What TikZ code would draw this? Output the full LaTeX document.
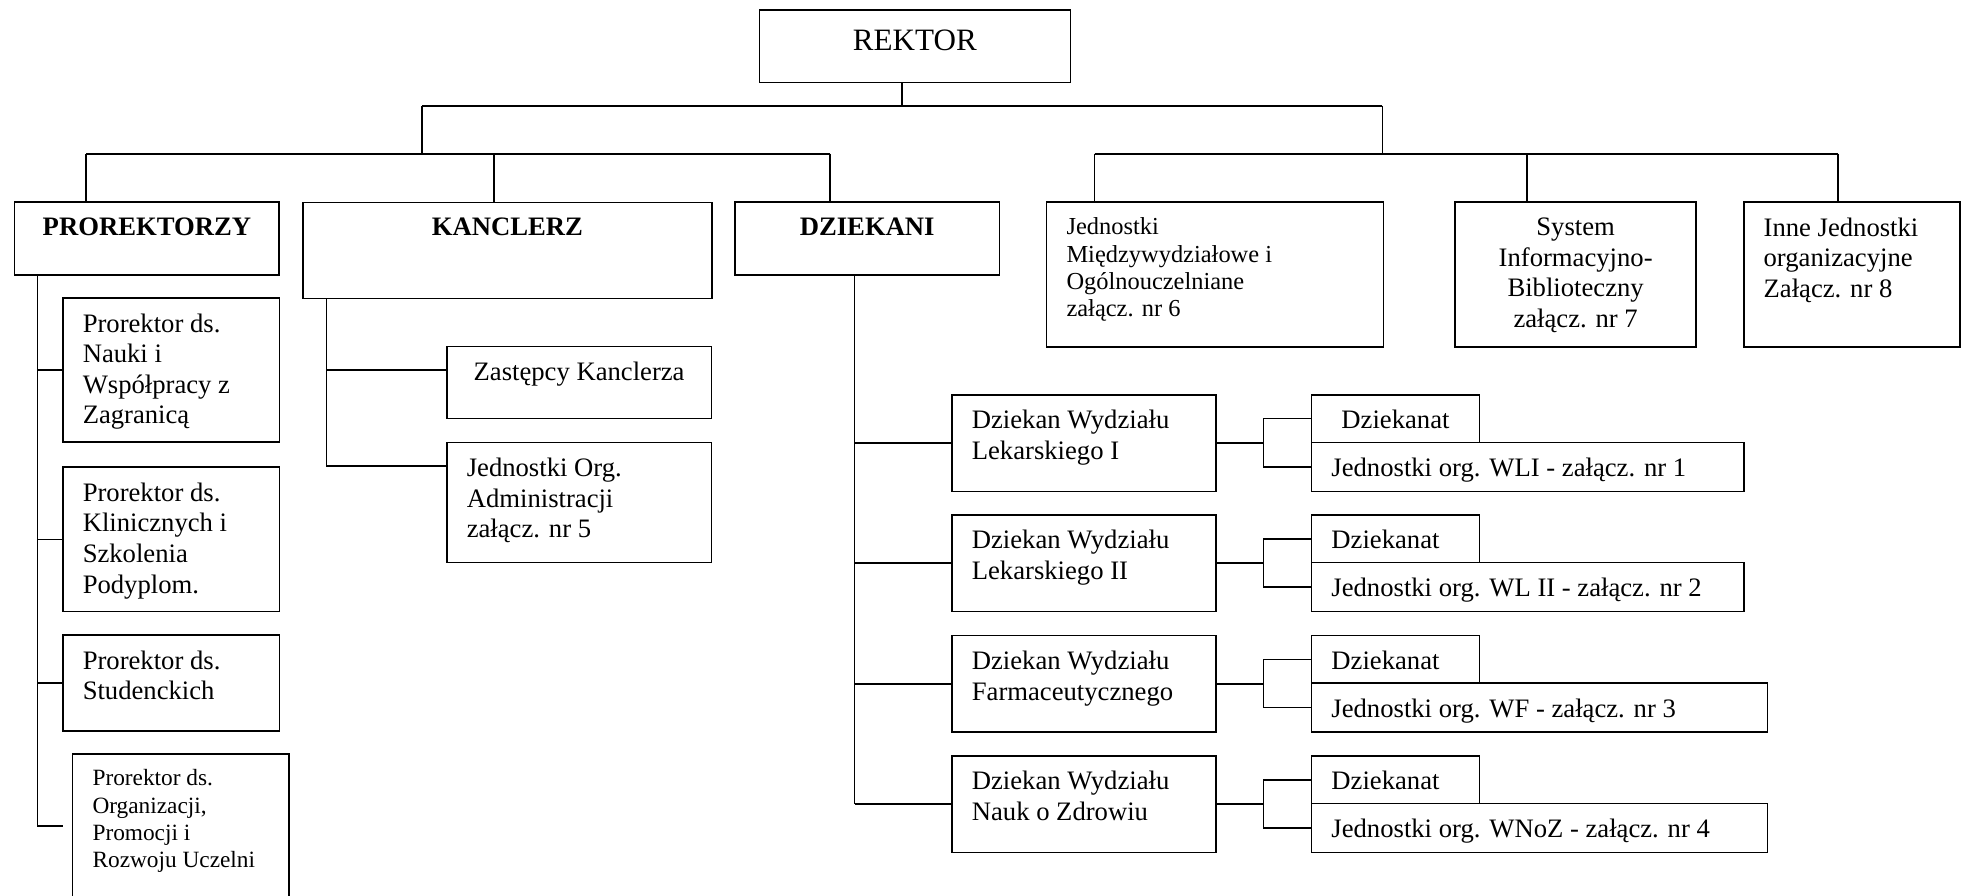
\documentclass[tikz,border=0pt]{standalone}
\usepackage{fontspec}
\setmainfont{Liberation Serif}
\usetikzlibrary{calc}

\newdimen\pxu
\pxu=0.5645pt
% box of #1 x #2 units, text at the top
\newcommand{\orgtext}[3]{\parbox[c][\dimexpr #2\pxu-14pt\relax][t]{\dimexpr #1\pxu-18pt\relax}{\raggedright #3}}

\begin{document}
\begin{tikzpicture}[x=0.5645pt, y=-0.5645pt,
    orgbox/.style={draw, line width=0.75pt, anchor=north west, inner xsep=9pt, inner ysep=7pt,
      font=\fontsize{12}{13.8}\selectfont},
    headbox/.style={orgbox, font=\fontsize{12}{13.8}\selectfont\bfseries},
    smallbox/.style={orgbox, font=\fontsize{11}{12.3}\selectfont},
    link/.style={line width=0.75pt}]
\useasboundingbox (0,0) rectangle (1568,714);

% rektor and the first level
\node[orgbox, font=\fontsize{14}{16}\selectfont] (rektor) at (605,7.5) {\orgtext{248}{57.5}{\centering\vspace*{2pt}REKTOR}};

\node[headbox] (pro) at (11,160.6) {\orgtext{211}{58}{\centering PROREKTORZY}};
\node[headbox] (kanc) at (241,160.7) {\orgtext{326}{76.7}{\centering KANCLERZ}};
\node[headbox] (dziek) at (585.5,160.6) {\orgtext{211}{58}{\centering DZIEKANI}};

\node[smallbox] (jm) at (834,160.6) {\orgtext{268.7}{115.4}{Jednostki\\ Międzywydziałowe i\\ Ogólnouczelniane\\ załącz. nr 6}};
\node[orgbox] (sib) at (1160,160.6) {\orgtext{192}{115.4}{\centering System\\ Informacyjno-\\ Biblioteczny\\ załącz. nr 7}};
\node[orgbox] (inne) at (1390,160.6) {\orgtext{172.6}{115.4}{Inne Jednostki\\ organizacyjne\\ Załącz. nr 8}};

% prorektorzy
\node[orgbox] (pr1) at (49.4,237) {\orgtext{172.8}{115}{Prorektor ds.\\ Nauki i\\ Współpracy z\\ Zagranicą}};
\node[orgbox] (pr2) at (49.4,372) {\orgtext{172.8}{115}{Prorektor ds.\\ Klinicznych i\\ Szkolenia\\ Podyplom.}};
\node[orgbox] (pr3) at (49.4,506) {\orgtext{172.8}{76.5}{Prorektor ds.\\ Studenckich}};
\node[orgbox, font=\fontsize{10.5}{12.3}\selectfont] (pr4) at (57.2,600.8) {\orgtext{172.7}{135}{Prorektor ds.\\ Organizacji,\\ Promocji i\\ Rozwoju Uczelni}};

% kanclerz
\node[orgbox] (kzast) at (355.7,275.7) {\orgtext{211}{57.4}{\centering Zastępcy Kanclerza}};
\node[orgbox] (kadm) at (355.7,352.3) {\orgtext{211}{95.7}{Jednostki Org.\\ Administracji\\ załącz. nr 5}};

% dziekani
\foreach \i/\y/\fac in {1/314.2/Lekarskiego I, 2/410/Lekarskiego II, 3/506.2/Farmaceutycznego, 4/602.2/Nauk o Zdrowiu}
  \node[orgbox] (dw\i) at (758.5,\y) {\orgtext{210.4}{77}{Dziekan Wydziału\\ \fac}};

\node[orgbox] (dkn1) at (1045.3,314.2) {\orgtext{134}{38}{\centering Dziekanat}};
\foreach \i/\y in {2/410, 3/506.2, 4/602.2}
  \node[orgbox] (dkn\i) at (1045.3,\y) {\orgtext{134}{38}{Dziekanat}};

\foreach \i/\y/\w/\wyd in {1/352.2/345/WLI, 2/448/345/WL II, 3/544.2/363.7/WF, 4/640.2/363.7/WNoZ}
  \node[orgbox] (jo\i) at (1045.3,\y) {\orgtext{\w}{39}{Jednostki org. \wyd{} - załącz. nr \i}};

% connectors
\coordinate (rk) at (719.6,84.3);
\coordinate (barL) at (336.7,84.3);
\coordinate (barR) at (1102.5,84.3);
\draw[link] (rk |- rektor.south) -- (rk);
\draw[link] (barL) -- (barR);

\coordinate (lbar) at (336.7,122.6);
\coordinate (tPro) at (68.6,122.6);
\coordinate (tKan) at (394,122.6);
\coordinate (tDzi) at (662,122.6);
\draw[link] (barL) -- (lbar);
\draw[link] (tPro) -- (tDzi);
\foreach \c/\n in {tPro/pro, tKan/kanc, tDzi/dziek}
  \draw[link] (\c) -- (\c |- \n.north);

\coordinate (rbar) at (1102.5,122.6);
\coordinate (tJm) at (873,122.6);
\coordinate (tSib) at (1218,122.6);
\coordinate (tInne) at (1466,122.6);
\draw[link] (barR) -- (rbar);
\draw[link] (tJm) -- (tInne);
\foreach \c/\n in {tJm/jm, tSib/sib, tInne/inne}
  \draw[link] (\c) -- (\c |- \n.north);

\coordinate (pspine) at (30,658.8);
\coordinate (pend) at (50,658.8);
\draw[link] (pspine |- pro.south) -- (pspine) -- (pend);
\foreach \n in {pr1,pr2,pr3}
  \draw[link] (pspine |- \n.west) -- (\n.west);

\coordinate (ks1) at (260.3,295);
\coordinate (ks2) at (260.3,371.4);
\draw[link] (ks2 |- kanc.south) -- (ks2) -- (ks2 -| kadm.west);
\draw[link] (ks1) -- (ks1 -| kzast.west);

\coordinate (dspine) at (681.6,0);
\draw[link] (dspine |- dziek.south) -- (dspine |- dw4.west);
\foreach \i in {1,...,4} {
  \draw[link] (dspine |- dw\i.west) -- (dw\i.west);
  \coordinate (br\i) at ($(dw\i.east)!.5!(dkn\i.west)$);
  \draw[link] (dw\i.east) -- (br\i |- dw\i.east);
  \draw[link] (dkn\i.west) -| (br\i) |- (jo\i.west);
}
\end{tikzpicture}
\end{document}
